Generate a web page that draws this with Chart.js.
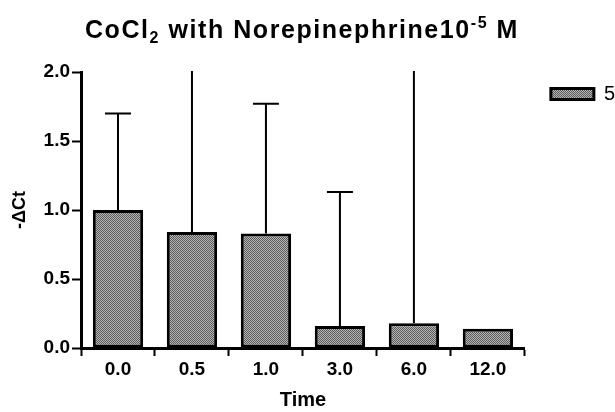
<!DOCTYPE html>
<html lang="en">
<head>
    <meta charset="UTF-8">
    <title>CoCl2 with Norepinephrine</title>
    <script src="https://cdn.jsdelivr.net/npm/chart.js"></script>
    <style>
        body {
            margin: 0;
            padding: 0;
            background: #fff;
        }
        .wrap {
            width: 615px;
            height: 412px;
        }
    </style>
</head>
<body>

<div class="wrap">
    <canvas id="chart"></canvas>
</div>

<script>
    const categories = ['0.0', '0.5', '1.0', '3.0', '6.0', '12.0'];
    const means = [1.00, 0.84, 0.83, 0.16, 0.18, 0.14];
    const upperErrors = [0.70, 1.40, 0.94, 0.97, 2.30, 0];
    const yTicks = [0, 0.5, 1.0, 1.5, 2.0];
    const seriesName = '5';

    const FONT = "'Liberation Sans', Arial, sans-serif";

    // gray dithered fill like the original
    function makePattern() {
        const c = document.createElement('canvas');
        c.width = 2;
        c.height = 2;
        const g = c.getContext('2d');
        g.fillStyle = '#b4b4b4';
        g.fillRect(0, 0, 2, 2);
        g.fillStyle = '#5c5c5c';
        g.fillRect(0, 0, 1, 1);
        g.fillRect(1, 1, 1, 1);
        return g.createPattern(c, 'repeat');
    }

    // title with sub/superscript, drawn a bit wide like the original
    const titlePlugin = {
        id: 'richTitle',
        afterDraw(chart) {
            const ctx = chart.ctx;
            const parts = [
                { t: 'CoCl', size: 25, dy: 0 },
                { t: '2', size: 16, dy: 5 },
                { t: ' with Norepinephrine10', size: 25, dy: 0 },
                { t: '-5', size: 16, dy: -10 },
                { t: ' M', size: 25, dy: 0 }
            ];
            const left = 85, right = 519, base = 38;
            ctx.save();
            ctx.fillStyle = '#000';
            ctx.textBaseline = 'alphabetic';
            let natural = 0, chars = 0;
            parts.forEach(p => {
                ctx.font = 'bold ' + p.size + 'px ' + FONT;
                p.w = ctx.measureText(p.t).width;
                natural += p.w;
                chars += p.t.length;
            });
            const spacing = Math.max(0, (right - left - natural) / chars);
            let x = left;
            parts.forEach(p => {
                ctx.font = 'bold ' + p.size + 'px ' + FONT;
                for (const ch of p.t) {
                    ctx.fillText(ch, x, base + p.dy);
                    x += ctx.measureText(ch).width + spacing;
                }
            });
            ctx.restore();
        }
    };

    // upper error bars
    const errorBarPlugin = {
        id: 'errorBars',
        afterDatasetsDraw(chart) {
            const ctx = chart.ctx;
            const meta = chart.getDatasetMeta(0);
            const yScale = chart.scales.y;
            const area = chart.chartArea;
            ctx.save();
            ctx.beginPath();
            ctx.rect(area.left, area.top - 1, area.right - area.left, area.bottom - area.top + 1);
            ctx.clip();
            ctx.strokeStyle = '#000';
            ctx.lineWidth = 2;
            meta.data.forEach((bar, i) => {
                if (!upperErrors[i]) return;
                const x = bar.x;
                const yTop = yScale.getPixelForValue(means[i] + upperErrors[i]);
                const yBar = yScale.getPixelForValue(means[i]);
                ctx.beginPath();
                ctx.moveTo(x, yBar);
                ctx.lineTo(x, yTop);
                ctx.moveTo(x - 13, yTop);
                ctx.lineTo(x + 13, yTop);
                ctx.stroke();
            });
            ctx.restore();
        }
    };

    // push the legend a little right of the plot, as in the original
    const legendShift = {
        id: 'legendShift',
        afterLayout(chart) {
            const lg = chart.legend;
            if (!lg) return;
            const dx = 16;
            lg.left += dx;
            lg.right += dx;
            lg.top += 2;
            lg.bottom += 2;
        }
    };

    const ctx = document.getElementById('chart').getContext('2d');
    new Chart(ctx, {
        type: 'bar',
        data: {
            labels: categories,
            datasets: [{
                label: seriesName,
                data: means,
                backgroundColor: makePattern(),
                borderColor: '#000',
                borderWidth: 3,
                borderSkipped: false,
                barPercentage: 0.68,
                categoryPercentage: 1
            }]
        },
        options: {
            responsive: true,
            maintainAspectRatio: false,
            animation: false,
            layout: {
                padding: { top: 72, left: 0, right: 6, bottom: 0 }
            },
            plugins: {
                title: { display: false },
                tooltip: { enabled: false },
                legend: {
                    position: 'right',
                    align: 'start',
                    labels: {
                        boxWidth: 43,
                        boxHeight: 11,
                        color: '#000',
                        padding: 10,
                        font: { family: FONT, size: 20 },
                        generateLabels(chart) {
                            return [{
                                text: seriesName,
                                fillStyle: chart.data.datasets[0].backgroundColor,
                                strokeStyle: '#000',
                                lineWidth: 3,
                                datasetIndex: 0
                            }];
                        }
                    }
                }
            },
            scales: {
                x: {
                    afterFit(scale) {
                        scale.height = 64;
                    },
                    grid: {
                        display: true,
                        drawOnChartArea: false,
                        drawTicks: true,
                        tickLength: 8,
                        tickWidth: 2,
                        tickColor: '#000',
                        offset: true
                    },
                    border: { color: '#000', width: 3 },
                    ticks: {
                        color: '#000',
                        padding: 2,
                        font: { family: FONT, size: 19, weight: 'bold' }
                    },
                    title: {
                        display: true,
                        text: 'Time',
                        color: '#000',
                        padding: { top: 0, bottom: 0 },
                        font: { family: FONT, size: 20, weight: 'bold' }
                    }
                },
                y: {
                    min: 0,
                    max: 2.0,
                    afterFit(scale) {
                        scale.width = 81;
                    },
                    afterBuildTicks(scale) {
                        scale.ticks = yTicks.map(v => ({ value: v }));
                    },
                    grid: {
                        display: true,
                        drawOnChartArea: false,
                        drawTicks: true,
                        tickLength: 9,
                        tickWidth: 2,
                        tickColor: '#000'
                    },
                    border: { color: '#000', width: 3 },
                    ticks: {
                        color: '#000',
                        padding: 2,
                        font: { family: FONT, size: 19, weight: 'bold' },
                        callback: v => Number(v).toFixed(1)
                    },
                    title: {
                        display: true,
                        text: '-ΔCt',
                        color: '#000',
                        padding: { top: 9, bottom: 0 },
                        font: { family: FONT, size: 18, weight: 'bold' }
                    }
                }
            }
        },
        plugins: [titlePlugin, errorBarPlugin, legendShift]
    });
</script>

</body>
</html>
